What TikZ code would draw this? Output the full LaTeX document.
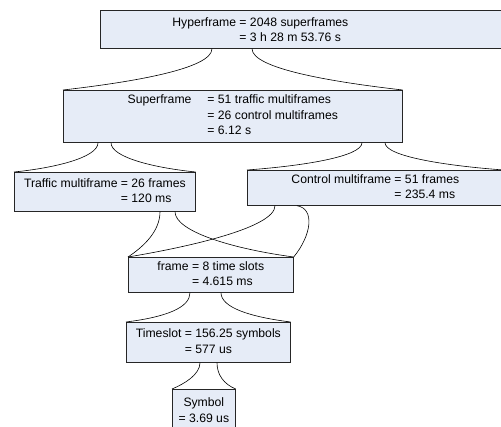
\documentclass[tikz,border=0pt]{standalone}
\usepackage{fontspec}
\setmainfont{Liberation Sans}
\usetikzlibrary{positioning}
\definecolor{boxfill}{RGB}{230,236,247}
\tikzset{
    box/.style={draw=black!85, fill=boxfill, line width=0.7pt, anchor=north west,
        inner sep=0pt, font=\fontsize{12.2}{15.5}\selectfont},
    link/.style={draw=black, line width=0.6pt}
}

\begin{document}
\begin{tikzpicture}[x=1pt,y=-1pt]
    \useasboundingbox (0,0) rectangle (501,427);
    \node[box, minimum width=402pt, minimum height=38pt] (hyper) at (100,10)
        {\begin{tabular}{@{}l@{ }l@{\hspace{82pt}}}
            \rule{0pt}{14pt}Hyperframe & = 2048 superframes\\
                       & = 3 h 28 m 53.76 s
        \end{tabular}};
    \node[box, minimum width=339pt, minimum height=52pt] (super) at (63,90)
        {\begin{tabular}{@{}l@{\hspace{16pt}}l@{}}
            Superframe & = 51 traffic multiframes\\
                       & = 26 control multiframes\\
                       & = 6.12 s
        \end{tabular}};
    \node[box, minimum width=181pt, minimum height=39pt] (traffic) at (14,172)
        {\begin{tabular}{@{}l@{ }l@{}}
            Traffic multiframe & = 26 frames\\
                               & = 120 ms
        \end{tabular}};
    \node[box, minimum width=256pt, minimum height=35pt] (control) at (247,170)
        {\begin{tabular}{@{}l@{ }l@{}}
            Control multiframe & = 51 frames\\
                               & = 235.4 ms
        \end{tabular}};
    \node[box, minimum width=165pt, minimum height=35pt] (frame) at (128,257)
        {\begin{tabular}{@{}l@{ }l@{}}
            frame & = 8 time slots\\
                  & = 4.615 ms
        \end{tabular}};
    \node[box, minimum width=164pt, minimum height=40pt] (timeslot) at (126,322)
        {\begin{tabular}{@{}l@{ }l@{}}
            Timeslot & = 156.25 symbols\\
                     & = 577 us
        \end{tabular}};
    \node[box, minimum width=63pt, minimum height=42pt, align=center] (symbol) at (172,389)
        {Symbol\\= 3.69 us};

    \draw[link] ([xshift=112pt]hyper.south west) .. controls +(0,20) and +(70,-8) .. (super.north west);
    \draw[link] ([xshift=152pt]hyper.south west) .. controls +(0,20) and +(-70,-8) .. (super.north east);

    \draw[link] ([xshift=35pt]super.south west) .. controls +(0,15) and +(40,-4) .. (traffic.north west);
    \draw[link] ([xshift=48pt]super.south west) .. controls +(0,15) and +(-40,-4) .. (traffic.north east);
    \draw[link] ([xshift=299pt]super.south west) .. controls +(0,14) and +(55,-4) .. (control.north west);
    \draw[link] ([xshift=322pt]super.south west) .. controls +(0,14) and +(-55,-4) .. (control.north east);

    \draw[link] ([xshift=146pt]traffic.south west) .. controls +(0,20) and +(15,-10) .. (frame.north west);
    \draw[link] ([xshift=161pt]traffic.south west) .. controls +(0,20) and +(-60,-8) .. (frame.north east);
    \draw[link] ([xshift=28pt]control.south west) .. controls +(0,22) and +(60,-10) .. (frame.north west);
    \draw[link] ([xshift=50pt]control.south west) .. controls +(18,3) and +(18,-22) .. (frame.north east);

    \draw[link] ([xshift=62pt]frame.south west) .. controls +(0,15) and +(40,-5) .. (timeslot.north west);
    \draw[link] ([xshift=93pt]frame.south west) .. controls +(0,15) and +(-40,-5) .. (timeslot.north east);

    \draw[link] ([xshift=74pt]timeslot.south west) .. controls +(0,12) and +(12,-5) .. (symbol.north west);
    \draw[link] ([xshift=91pt]timeslot.south west) .. controls +(0,12) and +(-12,-5) .. (symbol.north east);
\end{tikzpicture}
\end{document}
